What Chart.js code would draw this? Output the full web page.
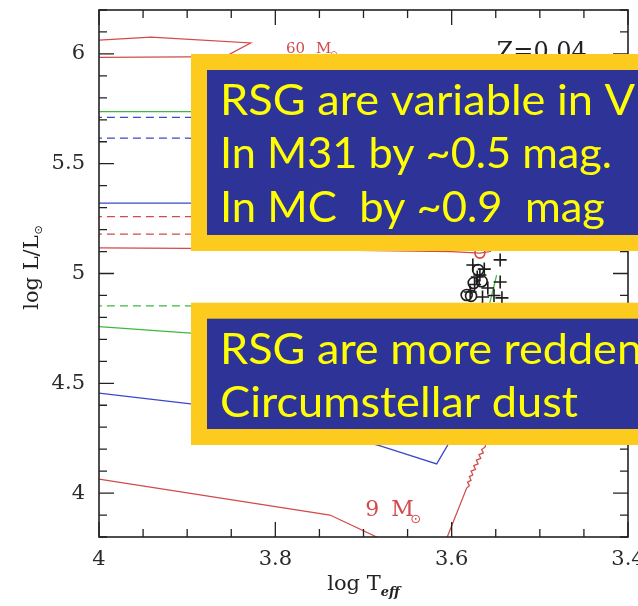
<!DOCTYPE html>
<html>
<head>
<meta charset="utf-8">
<script src="https://cdn.jsdelivr.net/npm/chart.js@4/dist/chart.umd.min.js"></script>
<style>
  html, body { margin: 0; padding: 0; background: #fff; }
  canvas { display: block; }
</style>
</head>
<body>
<canvas id="hr" width="638" height="606"></canvas>
<script>
// Evolutionary tracks in the HR diagram, Z = 0.04, points are [log Teff, log L/Lsun]
const track60Red      = [[4.05,5.984],[3.90,5.986],[3.857,5.988],[3.828,6.050],[3.941,6.077],[4.00,6.063],[4.05,6.052]];
const trackGreenHigh  = [[4.05,5.738],[3.90,5.737],[3.70,5.735],[3.62,5.700]];
const trackBlueDashA  = [[4.05,5.711],[3.90,5.711],[3.62,5.705]];
const trackBlueDashB  = [[4.05,5.616],[3.90,5.616],[3.62,5.610]];
const trackBlueHigh   = [[4.05,5.320],[3.90,5.320],[3.62,5.310]];
const trackRedDashA   = [[4.05,5.259],[3.90,5.259],[3.62,5.250]];
const trackRedDashB   = [[4.05,5.179],[3.90,5.179],[3.62,5.170]];
const trackRedMid     = [[4.05,5.118],[3.90,5.114],[3.75,5.108],[3.60,5.100],[3.568,5.093],[3.556,5.100],[3.550,5.200]];
const trackGreenDash  = [[4.05,4.853],[3.90,4.852],[3.62,4.850]];
const trackGreenLow   = [[4.05,4.772],[4.00,4.758],[3.896,4.728],[3.66,4.675],[3.58,4.740],[3.56,4.840],[3.557,4.862],[3.549,4.993]];
const trackBlueLow    = [[4.05,4.478],[4.00,4.455],[3.896,4.406],[3.772,4.310],[3.681,4.215],[3.617,4.133],[3.605,4.215],[3.579,4.424],[3.568,4.700]];
const track9Red       = [[4.05,4.085],[4.00,4.064],[3.738,3.900],[3.685,3.800],[3.66,3.740],[3.61,3.740],[3.605,3.800],[3.583,4.023],
                         [3.580,4.033],[3.582,4.050],[3.578,4.058],[3.580,4.075],[3.576,4.083],[3.578,4.100],[3.573,4.108],
                         [3.575,4.125],[3.570,4.133],[3.572,4.150],[3.567,4.158],[3.569,4.175],[3.564,4.183],[3.566,4.198],
                         [3.562,4.210],[3.556,4.350]];

// Observed red supergiants
const rsgCross  = [[3.545,5.062],[3.576,5.039],[3.545,4.961],[3.571,4.984],[3.565,4.893],[3.543,4.889],[3.559,4.934],
                   [3.568,4.993],[3.579,4.916],[3.563,5.020],[3.552,4.900],[3.574,4.950]];
const rsgCircle = [[3.583,4.902],[3.570,5.016],[3.575,4.957],[3.566,4.965],[3.578,4.898]];
const rsgRedMark = [[3.568,5.093]];

// Axis tick labels
const xTickValues = [4.0, 3.8, 3.6, 3.4];
const xTickLabels = ['4', '3.8', '3.6', '3.4'];
const yTickValues = [4.0, 4.5, 5.0, 5.5, 6.0];
const yTickLabels = ['4', '4.5', '5', '5.5', '6'];

// Text panels laid over the diagram
const panelTopLines = ['RSG are variable in V', 'In M31 by ~0.5 mag.', 'In MC  by ~0.9  mag'];
const panelBottomLines = ['RSG are more reddened', 'Circumstellar dust'];
// width each line's leading part spans, used to set the horizontal text scale
const panelTopFit = [['RSG are variable in', 373], ['In M31 by ~0.5 mag.', 392], ['In MC  by ~0.9  mag', 385]];
const panelBottomFit = [['RSG are more redden', 422], ['Circumstellar dust', 358]];

const RED = '#d24a4a', BLUE = '#3b48cc', GREEN = '#3fb83f';
const toXY = arr => arr.map(p => ({ x: p[0], y: p[1] }));

function trackSet(data, color, dashed) {
  return {
    data: toXY(data), showLine: true, borderColor: color, borderWidth: 1.25,
    borderDash: dashed ? [8, 5] : [], pointRadius: 0, fill: false, tension: 0
  };
}
function pointSet(data, style, color, r) {
  return {
    data: toXY(data), showLine: false, pointStyle: style, pointRadius: r,
    pointBorderColor: color, pointBackgroundColor: 'rgba(0,0,0,0)', pointBorderWidth: 1.6
  };
}

function labelFor(values, labels, v) {
  for (let i = 0; i < values.length; i++) if (Math.abs(values[i] - v) < 1e-6) return labels[i];
  return '';
}
const isMajor = (v, step) => Math.abs(v / step - Math.round(v / step)) < 1e-6;

// Boxed frame with inward major/minor ticks on all four sides, plus in-plot notes
const framePlugin = {
  id: 'frame',
  afterDatasetsDraw(chart) {
    const { ctx, chartArea: a, scales: { x, y } } = chart;
    ctx.save();
    ctx.strokeStyle = '#222';
    ctx.lineWidth = 1.6;
    ctx.strokeRect(a.left, a.top, a.right - a.left, a.bottom - a.top);
    ctx.lineWidth = 1.3;
    ctx.beginPath();
    x.ticks.forEach(t => {
      const p = x.getPixelForValue(t.value);
      const L = isMajor(t.value, 0.2) ? 15 : 8;
      ctx.moveTo(p, a.bottom); ctx.lineTo(p, a.bottom - L);
      ctx.moveTo(p, a.top); ctx.lineTo(p, a.top + L);
    });
    y.ticks.forEach(t => {
      const p = y.getPixelForValue(t.value);
      const L = isMajor(t.value, 0.5) ? 15 : 8;
      ctx.moveTo(a.left, p); ctx.lineTo(a.left + L, p);
      ctx.moveTo(a.right, p); ctx.lineTo(a.right - L, p);
    });
    ctx.stroke();

    // mass / metallicity notes
    ctx.textBaseline = 'alphabetic';
    ctx.textAlign = 'left';
    ctx.fillStyle = RED;
    ctx.font = '15px "DejaVu Serif"';
    let px = x.getPixelForValue(3.788), py = y.getPixelForValue(6.004);
    ctx.fillText('60', px, py);
    ctx.fillText('M', px + 30, py);
    ctx.font = '9px "DejaVu Sans"';
    ctx.fillText('\u2299', px + 44, py + 4);

    ctx.font = '22px "DejaVu Serif"';
    px = x.getPixelForValue(3.698); py = y.getPixelForValue(3.896);
    ctx.fillText('9', px, py);
    ctx.fillText('M', px + 26, py);
    ctx.font = '13px "DejaVu Sans"';
    ctx.fillText('\u2299', px + 45, py + 7);

    ctx.fillStyle = '#222';
    ctx.font = '24px "DejaVu Serif"';
    px = x.getPixelForValue(3.549); py = y.getPixelForValue(5.977);
    ctx.fillText('Z=0.04', px, py);
    ctx.restore();
  },
  afterDraw(chart) {
    const { ctx, chartArea: a } = chart;
    ctx.save();
    // axis titles
    ctx.fillStyle = '#222';
    ctx.textBaseline = 'alphabetic';
    ctx.textAlign = 'left';
    ctx.font = '21px "DejaVu Serif"';
    const cx = (a.left + a.right) / 2;
    const w1 = ctx.measureText('log T').width;
    ctx.font = 'italic bold 13px "DejaVu Serif"';
    const w2 = ctx.measureText('eff').width;
    let sx = cx - (w1 + w2) / 2;
    ctx.font = '21px "DejaVu Serif"';
    ctx.fillText('log T', sx, 590);
    ctx.font = 'italic bold 13px "DejaVu Serif"';
    ctx.fillText('eff', sx + w1, 596);

    ctx.translate(38, 268);
    ctx.rotate(-Math.PI / 2);
    ctx.font = '21px "DejaVu Serif"';
    const v1 = ctx.measureText('log L/L').width;
    ctx.font = '11px "DejaVu Sans"';
    const v2 = ctx.measureText('\u2299').width;
    sx = -(v1 + v2) / 2;
    ctx.font = '21px "DejaVu Serif"';
    ctx.fillText('log L/L', sx, 0);
    ctx.font = '11px "DejaVu Sans"';
    ctx.fillText('\u2299', sx + v1 + 1, 4);
    ctx.restore();

    // text panels
    drawPanel(ctx, 191, 54, 251, panelTopLines, panelTopFit, [115, 168.3, 221.7]);
    drawPanel(ctx, 191, 302.7, 445, panelBottomLines, panelBottomFit, [364, 416.7]);
  }
};

function drawPanel(ctx, left, top, bottom, lines, fit, baselines) {
  const border = 16;
  ctx.save();
  ctx.fillStyle = '#fdcb1e';
  ctx.fillRect(left, top, 660 - left, bottom - top);
  ctx.fillStyle = '#2e3398';
  ctx.fillRect(left + border, top + border, 660 - left - border, bottom - top - 2 * border);
  ctx.font = '42px Lato';
  ctx.fillStyle = '#ffff00';
  ctx.textBaseline = 'alphabetic';
  ctx.textAlign = 'left';
  lines.forEach((t, i) => {
    const scaleX = fit[i][1] / ctx.measureText(fit[i][0]).width;
    ctx.save();
    ctx.translate(220, baselines[i]);
    ctx.scale(scaleX, 1);
    ctx.fillText(t, 0, 0);
    ctx.restore();
  });
  ctx.restore();
}

const tickFont = { family: 'DejaVu Serif', size: 21 };

new Chart(document.getElementById('hr'), {
  type: 'scatter',
  data: {
    datasets: [
      pointSet(rsgCross, 'cross', '#1c1c1c', 6.5),
      pointSet(rsgCircle, 'circle', '#1c1c1c', 5.5),
      pointSet(rsgRedMark, 'circle', RED, 5),
      trackSet(track60Red, RED, false),
      trackSet(trackGreenHigh, GREEN, false),
      trackSet(trackBlueDashA, BLUE, true),
      trackSet(trackBlueDashB, BLUE, true),
      trackSet(trackBlueHigh, BLUE, false),
      trackSet(trackRedDashA, RED, true),
      trackSet(trackRedDashB, RED, true),
      trackSet(trackRedMid, RED, false),
      trackSet(trackGreenDash, GREEN, true),
      trackSet(trackGreenLow, GREEN, false),
      trackSet(trackBlueLow, BLUE, false),
      trackSet(track9Red, RED, false)
    ]
  },
  options: {
    responsive: false,
    animation: false,
    devicePixelRatio: 1,
    layout: { padding: { left: 0, right: 10, top: 10, bottom: 0 } },
    plugins: { legend: { display: false }, tooltip: { enabled: false } },
    scales: {
      x: {
        type: 'linear', reverse: true, min: 3.4, max: 4.0,
        grid: { display: false, drawTicks: false }, border: { display: false },
        ticks: {
          stepSize: 0.05, autoSkip: false, maxRotation: 0, padding: 10,
          font: tickFont, color: '#2a2a2a',
          callback: v => labelFor(xTickValues, xTickLabels, v)
        },
        afterFit(s) { s.height = 69; s.paddingLeft = 0; s.paddingRight = 0; }
      },
      y: {
        type: 'linear', min: 3.8, max: 6.2,
        grid: { display: false, drawTicks: false }, border: { display: false },
        ticks: {
          stepSize: 0.1, autoSkip: false, padding: 14,
          font: tickFont, color: '#2a2a2a',
          callback: v => labelFor(yTickValues, yTickLabels, v)
        },
        afterFit(s) { s.width = 99; s.paddingTop = 0; s.paddingBottom = 0; }
      }
    }
  },
  plugins: [framePlugin]
});
</script>
</body>
</html>
